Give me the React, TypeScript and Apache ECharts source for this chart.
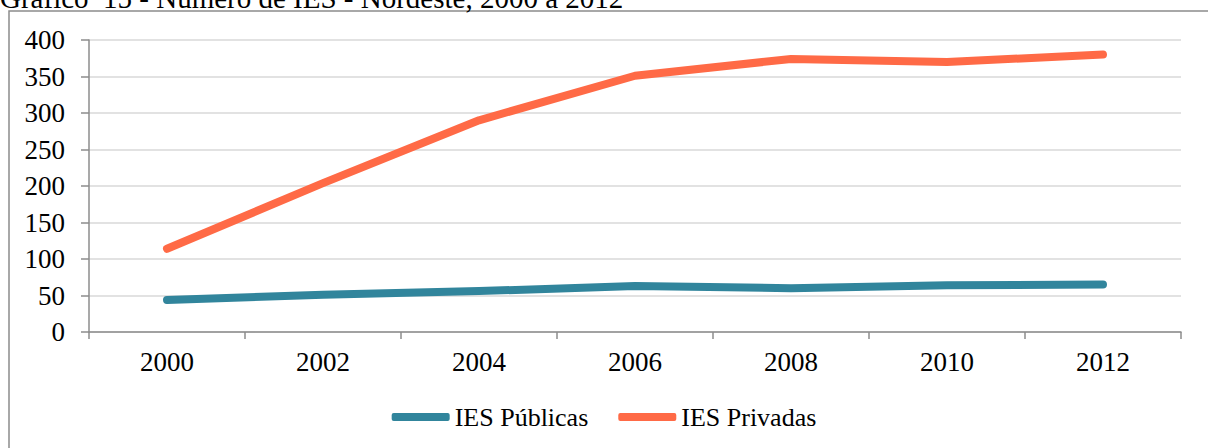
import React, { useEffect, useRef } from "react";
import * as echarts from "echarts";

const years = ["2000", "2002", "2004", "2006", "2008", "2010", "2012"];
const publicas = [44, 51, 56, 63, 60, 64, 65];
const privadas = [114, 204, 290, 351, 374, 370, 380];
const seriesNames = ["IES Públicas", "IES Privadas"];
const titleText = "Gráfico  15 - Número de IES - Nordeste, 2000 a 2012";

const FONT = "Liberation Serif";

export default function App() {
  const ref = useRef<HTMLDivElement>(null);
  useEffect(() => {
    const chart = echarts.init(ref.current!, null, { renderer: "svg" });
    chart.setOption({
      animation: false,
      backgroundColor: "#fff",
      textStyle: { fontFamily: FONT },
      graphic: [
        {
          type: "rect",
          shape: { x: 9, y: 11, width: 1210, height: 450 },
          style: { fill: "none", stroke: "#8c8c8c", lineWidth: 1.5 },
          silent: true,
        },
        {
          type: "text",
          left: 0,
          top: -17,
          style: { text: titleText, fontSize: 29, fontFamily: FONT, fill: "#000" },
        },
      ],
      grid: { left: 89, right: 27, top: 40, bottom: 116, containLabel: false },
      legend: {
        bottom: 13,
        left: "center",
        itemWidth: 58,
        itemHeight: 8,
        itemGap: 30,
        icon: "roundRect",
        textStyle: { fontSize: 26, fontFamily: FONT, color: "#000" },
        data: seriesNames,
      },
      xAxis: {
        type: "category",
        data: years,
        boundaryGap: true,
        axisLine: { lineStyle: { color: "#8c8c8c", width: 1.5 } },
        axisTick: { show: true, length: 7, inside: false, lineStyle: { color: "#8c8c8c", width: 1.5 } },
        axisLabel: { fontSize: 27, color: "#000", margin: 16, fontFamily: FONT },
        splitLine: { show: false },
      },
      yAxis: {
        type: "value",
        min: 0,
        max: 400,
        interval: 50,
        axisLine: { show: true, lineStyle: { color: "#8c8c8c", width: 1.5 } },
        axisTick: { show: true, length: 8, lineStyle: { color: "#8c8c8c", width: 1.5 } },
        axisLabel: { fontSize: 27, color: "#000", margin: 24, fontFamily: FONT },
        splitLine: { lineStyle: { color: "#d9d9d9", width: 1.5 } },
      },
      series: [
        {
          name: seriesNames[0],
          type: "line",
          data: publicas,
          symbol: "none",
          color: "#31859C",
          lineStyle: { width: 8, cap: "round", join: "round", color: "#31859C" },
        },
        {
          name: seriesNames[1],
          type: "line",
          data: privadas,
          symbol: "none",
          color: "#FF6A46",
          lineStyle: { width: 8, cap: "round", join: "round", color: "#FF6A46" },
        },
      ],
    });
    return () => chart.dispose();
  }, []);
  return (
    <div
      ref={ref}
      style={{ position: "absolute", left: 0, top: 0, width: 1208, height: 448 }}
    />
  );
}
